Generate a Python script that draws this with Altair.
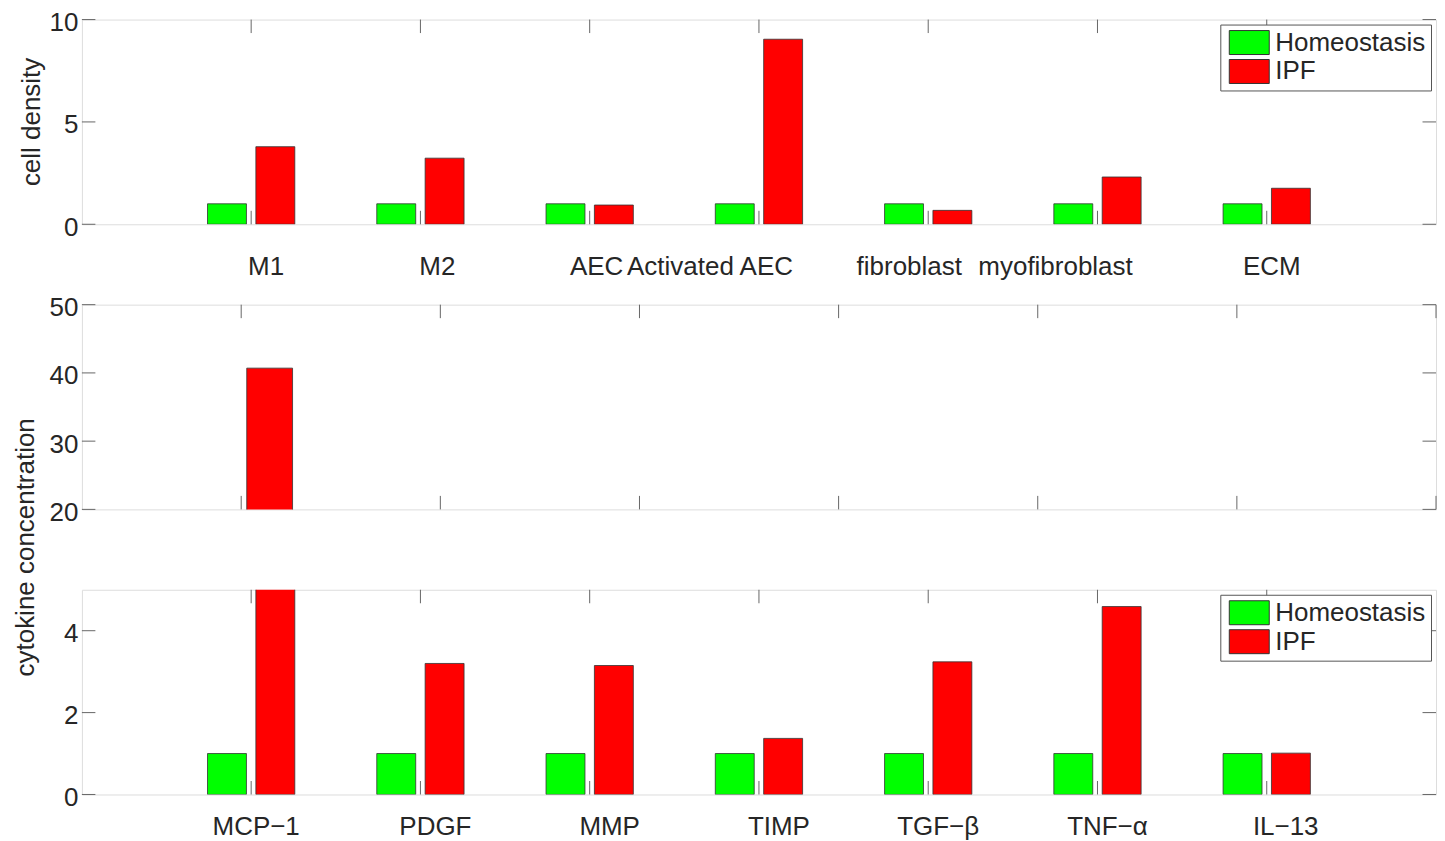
import altair as alt
import pandas as pd

# ---------------- data ----------------
SERIES = ["Homeostasis", "IPF"]
COLORS = ["#00ff00", "#ff0000"]

CELL_TYPES = ["M1", "M2", "AEC", "Activated AEC", "fibroblast", "myofibroblast", "ECM"]
CELL_HOMEO = [1.0, 1.0, 1.0, 1.0, 1.0, 1.0, 1.0]
CELL_IPF = [3.79, 3.23, 0.94, 9.04, 0.68, 2.31, 1.76]

CYTOKINES = ["MCP\u22121", "PDGF", "MMP", "TIMP", "TGF\u2212\u03b2", "TNF\u2212\u03b1", "IL\u221213"]
CYTO_HOMEO = [1.0, 1.0, 1.0, 1.0, 1.0, 1.0, 1.0]
CYTO_IPF = [40.7, 3.20, 3.15, 1.37, 3.24, 4.59, 1.01]

Y_TICKS_CELL = [0, 5, 10]
Y_TICKS_CYTO_HIGH = [20, 30, 40, 50]
Y_TICKS_CYTO_LOW = [0, 2, 4]

# ---------------- style ----------------
W, H = 1356, 205
FS = 26
FONT = "Liberation Sans"
TXT = "#262626"
AX = "#666666"
TICK = 13.5
BAR_SHIFT = 1 / 7
BAR_WIDTH = 0.23
PX_PER_UNIT = W / 8
# horizontal nudges (px) of category labels, as placed in the original figure
CELL_LABEL_NUDGE = [15, 17, 7, -49, -19, -42, 5]
CYTO_LABEL_NUDGE = [5, 15, 20, 20, 10, 10, 19]

LEG_PATH = "M-1.667,-1H1.667V1H-1.667Z"


def long_table(cats, homeo, ipf):
    rows = []
    for i, c in enumerate(cats):
        rows.append({"cat": c, "idx": i + 1, "series": SERIES[0], "value": homeo[i]})
        rows.append({"cat": c, "idx": i + 1, "series": SERIES[1], "value": ipf[i]})
    return pd.DataFrame(rows)


def panel(df, cats, xdom, ydom, yticks, show_legend, nudges=None, label_dy=None,
          title=None, title_xy=None):
    xs = alt.Scale(domain=xdom, nice=False, zero=False)
    ys = alt.Scale(domain=ydom, nice=False, zero=False)
    yaxis = alt.Axis(values=yticks, title=None, ticks=False, domain=False, grid=False,
                     labelFontSize=FS, labelFont=FONT, labelColor=TXT, labelPadding=4,
                     labelOffset=3, format="d")
    if show_legend:
        legend = alt.Legend(title=None, orient="top-right", offset=5,
                            symbolType=LEG_PATH, symbolSize=576,
                            symbolStrokeColor="#333333", symbolStrokeWidth=1,
                            symbolOpacity=1, symbolOffset=11,
                            labelFontSize=FS, labelFont=FONT, labelColor=TXT,
                            labelOffset=13, labelLimit=400,
                            padding=5, rowPadding=1,
                            strokeColor="#555555", fillColor="white")
    else:
        legend = None
    color = alt.Color("series:N", scale=alt.Scale(domain=SERIES, range=COLORS),
                      legend=legend)

    bars = alt.Chart(df).transform_calculate(
        shift=f"datum.series == 'IPF' ? {BAR_SHIFT} : {-BAR_SHIFT}"
    ).transform_calculate(
        xa=f"datum.idx + datum.shift - {BAR_WIDTH / 2}",
        xb=f"datum.idx + datum.shift + {BAR_WIDTH / 2}",
    ).mark_bar(stroke="#333333", strokeWidth=0.8, clip=True, opacity=1).encode(
        x=alt.X("xa:Q", scale=xs, axis=None),
        x2="xb:Q",
        y=alt.Y("value:Q", scale=ys, axis=yaxis),
        y2=alt.datum(0),
        color=color,
    )

    n = len(cats)
    tick_df = pd.DataFrame({"idx": list(range(1, n + 1))})
    xt_bot = alt.Chart(tick_df).mark_rule(color=AX, strokeWidth=1).encode(
        x=alt.X("idx:Q", scale=xs, axis=None), y=alt.value(H), y2=alt.value(H - TICK))
    xt_top = alt.Chart(tick_df).mark_rule(color=AX, strokeWidth=1).encode(
        x=alt.X("idx:Q", scale=xs, axis=None), y=alt.value(0), y2=alt.value(TICK))

    yt_df = pd.DataFrame({"value": yticks})
    yt_left = alt.Chart(yt_df).mark_rule(color=AX, strokeWidth=1).encode(
        y=alt.Y("value:Q", scale=ys, axis=yaxis), x=alt.value(0), x2=alt.value(TICK))
    yt_right = alt.Chart(yt_df).mark_rule(color=AX, strokeWidth=1).encode(
        y=alt.Y("value:Q", scale=ys, axis=yaxis), x=alt.value(W), x2=alt.value(W - TICK))

    layers = [bars, xt_bot, xt_top, yt_left, yt_right]

    if nudges is not None:
        lab_df = pd.DataFrame({"cat": cats, "idx": list(range(1, n + 1)), "nudge": nudges})
        labels = alt.Chart(lab_df).transform_calculate(
            xl=f"datum.idx + datum.nudge / {PX_PER_UNIT}"
        ).mark_text(fontSize=FS, font=FONT, color=TXT, baseline="middle", align="center").encode(
            x=alt.X("xl:Q", scale=xs, axis=None),
            y=alt.value(H + label_dy),
            text="cat:N",
        )
        layers.append(labels)

    if title is not None:
        t_df = pd.DataFrame({"t": [title]})
        ttl = alt.Chart(t_df).mark_text(fontSize=FS, font=FONT, color=TXT, angle=270,
                                        baseline="middle", align="center").encode(
            text="t:N", x=alt.value(title_xy[0]), y=alt.value(title_xy[1]))
        layers.append(ttl)

    return alt.layer(*layers).properties(width=W, height=H)


cell_df = long_table(CELL_TYPES, CELL_HOMEO, CELL_IPF)
cyto_df = long_table(CYTOKINES, CYTO_HOMEO, CYTO_IPF)

top = panel(cell_df, CELL_TYPES, [0, 8], [0, 10], Y_TICKS_CELL, True,
            nudges=CELL_LABEL_NUDGE, label_dy=43,
            title="cell density", title_xy=(-50, 102.5))
mid = panel(cyto_df, CYTOKINES, [0.2, 7.0], [20, 50], Y_TICKS_CYTO_HIGH, False,
            title="cytokine concentration", title_xy=(-56, 243))
bot = panel(cyto_df, CYTOKINES, [0, 8], [0, 5], Y_TICKS_CYTO_LOW, True,
            nudges=CYTO_LABEL_NUDGE, label_dy=33)

chart = alt.vconcat(top, mid, bot, spacing=80.5, bounds="flush").resolve_scale(
    x="independent", y="independent"
).resolve_legend(color="independent").properties(
    padding={"left": 4, "top": 0, "right": 0, "bottom": 0}
).configure_view(stroke=AX, strokeWidth=1).configure(font=FONT)

chart.save("out.html", embed_options={"renderer": "svg", "actions": False})
